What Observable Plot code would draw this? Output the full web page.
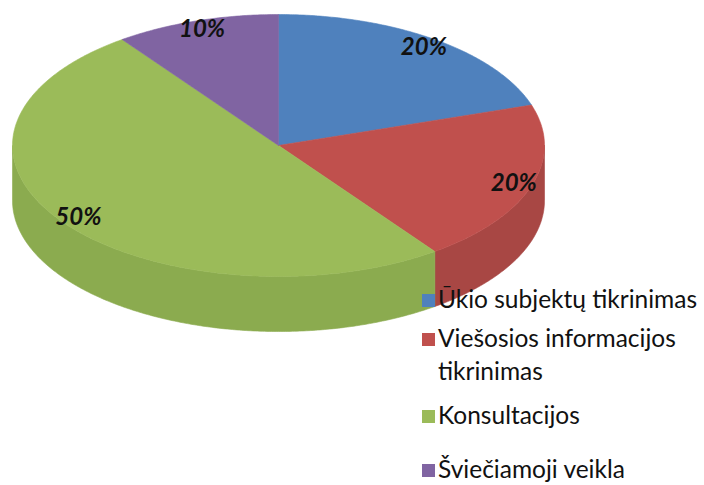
<!DOCTYPE html>
<html><head><meta charset="utf-8">
<script src="https://cdn.jsdelivr.net/npm/d3@7"></script>
<script src="https://cdn.jsdelivr.net/npm/@observablehq/plot@0.6"></script>
<style>
body{margin:0;background:#fff;}
#wrap{position:relative;width:704px;height:485px;overflow:hidden;}
#wrap svg{position:absolute;left:0;top:0;}
</style></head>
<body><div id="wrap"></div>
<script>
const categories = ["Ūkio subjektų tikrinimas","Viešosios informacijos tikrinimas","Konsultacijos","Šviečiamoji veikla"];
const legendLines = [["Ūkio subjektų tikrinimas"],["Viešosios informacijos","tikrinimas"],["Konsultacijos"],["Šviečiamoji veikla"]];
const values = [20,20,50,10];
const labels = ["20%","20%","50%","10%"];
const topColors = ["#4f81bd","#c0504d","#9bbb59","#8064a2"];
const sideColors = ["#40699b","#a84744","#8bab4f","#68508a"];

const W=704,H=485, cx=278, cy=145, rx=266, ry=131, depth=0.42, labelR=0.93;

const total = d3.sum(values);
let acc=0;
const slices = values.map((v,i)=>{const a0=acc/total*360; acc+=v; return {i,a0,a1:acc/total*360};});
const pt=(a,dy=0)=>{const r=a*Math.PI/180; return [Math.sin(r), -Math.cos(r)+dy];};
const arcAngles=(a0,a1)=>{const n=Math.max(2,Math.ceil((a1-a0)/0.5));return d3.range(n+1).map(j=>a0+(a1-a0)*j/n);};
const topPts=[], sidePts=[], labelData=[];
for (const s of slices){
  const poly=[[0,0], ...arcAngles(s.a0,s.a1).map(a=>pt(a)), [0,0]];
  poly.forEach(([x,y])=>topPts.push({x,y,slice:s.i,c:topColors[s.i]}));
  const b0=Math.max(s.a0,90), b1=Math.min(s.a1,270);
  if(b1>b0){
    const arc=arcAngles(b0,b1);
    const p=[...arc.map(a=>pt(a)), ...arc.slice().reverse().map(a=>pt(a,depth))];
    p.push(p[0]);
    p.forEach(([x,y])=>sidePts.push({x,y,slice:s.i,c:sideColors[s.i]}));
  }
  const m=(s.a0+s.a1)/2*Math.PI/180;
  labelData.push({x:Math.sin(m)*labelR,y:-Math.cos(m)*labelR,text:labels[s.i]});
}

const plot = Plot.plot({
  width:W, height:H, margin:0,
  style:{background:"transparent"},
  x:{domain:[-cx/rx,(W-cx)/rx], range:[0,W], axis:null},
  y:{domain:[-cy/ry,(H-cy)/ry], range:[0,H], axis:null},
  color:{type:"identity"},
  marks:[
    Plot.line(sidePts,{x:"x",y:"y",z:"slice",fill:"c",stroke:"c",strokeWidth:0.6,curve:"linear"}),
    Plot.line(topPts,{x:"x",y:"y",z:"slice",fill:"c",stroke:"c",strokeWidth:0.6,curve:"linear"}),
    Plot.text(labelData,{x:"x",y:"y",text:"text",fontSize:24,fontStyle:"italic",fontWeight:"bold",fontFamily:"Lato, sans-serif",fill:"#111"})
  ]
});
const wrap=document.getElementById("wrap");
wrap.appendChild(plot);

// legend overlay
const legBase=[[308],[347,380],[424],[478]];
const svg=d3.select(wrap).append("svg").attr("width",W).attr("height",H)
  .style("position","absolute").style("left",0).style("top",0);
legendLines.forEach((lines,i)=>{
  svg.append("rect").attr("x",422).attr("y",legBase[i][0]-14).attr("width",13).attr("height",13).attr("fill",topColors[i]);
  lines.forEach((ln,j)=>{
    svg.append("text").attr("x",438).attr("y",legBase[i][j])
      .attr("font-family","Lato, 'Open Sans', sans-serif").attr("font-size",24.5).attr("fill","#111").text(ln);
  });
});
</script>
</body></html>
